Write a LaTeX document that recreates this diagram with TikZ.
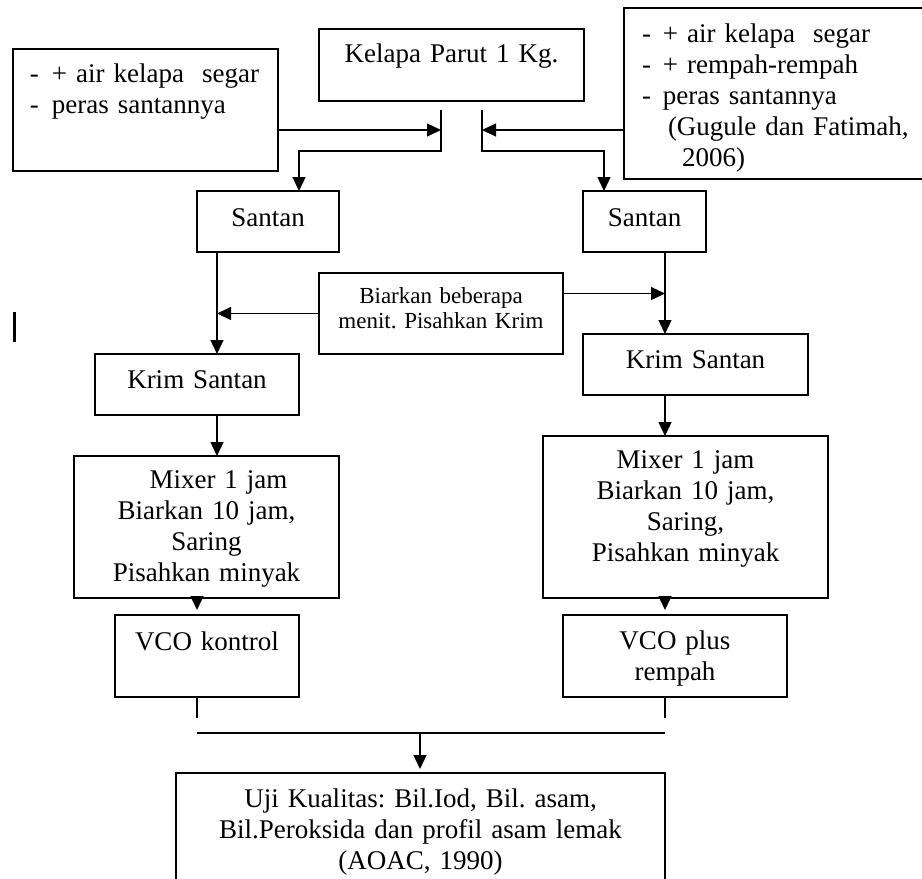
\documentclass[tikz,border=0pt]{standalone}
\usepackage{fontspec}
\setmainfont{Liberation Serif}
\usetikzlibrary{arrows.meta}
\frenchspacing

\begin{document}
\begin{tikzpicture}[x=0.5pt,y=-0.5pt,line width=0.65pt,>={Triangle[length=7pt,width=6.5pt]},
	font=\fontsize{13.5}{15.5}\selectfont,
	box/.style={draw,anchor=north west,inner xsep=4pt,inner ysep=0pt,outer sep=0pt,align=center},
	note/.style={box,align=left}]
				\useasboundingbox (0,0) rectangle (922,879);
				\clip (0,0) rectangle (922,879);
				% bahan awal
				\node[box,text width=124.5pt,text height=16.5pt,text depth=19.5pt] (kelapa) at (319,29) {Kelapa Parut 1 Kg.};
				\node[note,inner xsep=8.5pt,text width=115.5pt,text height=16.5pt,text depth=44.5pt] (lbox) at (13,49)
					{\makebox[11pt][l]{-}+ air kelapa~~segar\\ \makebox[11pt][l]{-}peras santannya};
				\node[note,inner xsep=9pt,text width=147pt,text height=17pt,text depth=68.5pt] (rbox) at (624,8)
					{\makebox[10.5pt][l]{-}+ air kelapa~~segar\\ \makebox[10.5pt][l]{-}+ rempah-rempah\\
					\makebox[10.5pt][l]{-}peras santannya\\ \hspace*{13pt}(Gugule dan Fatimah,\\ \hspace*{20pt}2006)};
				\coordinate (jLt) at (441,110); \coordinate (jLm) at (441,130); \coordinate (jLb) at (441,151);
				\coordinate (jRt) at (482,110); \coordinate (jRm) at (482,130); \coordinate (jRb) at (482,151);
				% santan dan krim
				\node[box,text width=63pt,text height=17.8pt,text depth=12.7pt] (santanL) at (197,191) {Santan};
				\node[box,text width=53.5pt,text height=17.8pt,text depth=12.7pt] (santanR) at (583,191) {Santan};
				\node[box,text width=114pt,text height=15pt,text depth=25.5pt,font=\fontsize{11.5}{12.5}\selectfont] (biarkan) at (319,273)
					{Biarkan beberapa\\ menit. Pisahkan Krim};
				\node[box,text width=94pt,text height=17.2pt,text depth=13.3pt] (krimL) at (95,354) {Krim Santan};
				\node[box,text width=104.5pt,text height=17.2pt,text depth=13.3pt] (krimR) at (583,334) {Krim Santan};
				\node[box,text width=124.5pt,text height=16pt,text depth=55pt] (mixL) at (74,456)
					{\hspace*{12pt}Mixer 1 jam\\ Biarkan 10 jam,\\ Saring\\ Pisahkan minyak};
				\node[box,text width=134.5pt,text height=16pt,text depth=65pt] (mixR) at (543,436)
					{Mixer 1 jam\\ Biarkan 10 jam,\\ Saring,\\ Pisahkan minyak};
				\node[box,text width=84pt,text height=17.5pt,text depth=23.5pt] (vcoK) at (115,615) {VCO kontrol};
				\node[box,text width=104pt,text height=17pt,text depth=24pt] (vcoP) at (563,615) {VCO plus\\ rempah};
				\node[box,text width=236.5pt,text height=17pt,text depth=46.5pt] (uji) at (176,773)
					{Uji Kualitas: Bil.Iod, Bil. asam,\\ Bil.Peroksida dan profil asam lemak\\ (AOAC, 1990)};
				% panah atas
				\draw[->] (lbox.east |- jLm) -- (jLm);
				\draw[->] (rbox.west |- jRm) -- (jRm);
				\draw[->] (jLt) -- (jLb) -| ([xshift=51pt]santanL.north west);
				\draw[->] (jRt) -- (jRb) -| ([xshift=10.5pt]santanR.north west);
				% panah tengah
				\coordinate (dl) at ([xshift=10pt]santanL.south west);
				\coordinate (dr) at ([xshift=41pt]santanR.south west);
				\coordinate (br) at ([yshift=10pt]biarkan.east);
				\draw[->] (dl) -- (dl |- krimL.north);
				\draw[->] (dr) -- (dr |- krimR.north);
				\draw[->] (biarkan.west) -- (biarkan.west -| dl);
				\draw[->] (br) -- (br -| dr);
				\draw[->] (dl |- krimL.south) -- (dl |- mixL.north);
				\draw[->] (dr |- krimR.south) -- (dr |- mixR.north);
				% panah bawah
				\coordinate (vk) at ([xshift=41pt]vcoK.north west);
				\coordinate (vp) at ([xshift=51pt]vcoP.north west);
				\coordinate (bar) at (420,733);
				\draw[->,shorten >=2.5pt] (vk |- mixL.south) -- (vk);
				\draw[->,shorten >=2.5pt] (vp |- mixR.south) -- (vp);
				\draw (vk |- vcoK.south) -- ++(0,21);
				\draw (vp |- vcoP.south) -- ++(0,21);
				\draw (vk |- bar) -- (vp |- bar);
				\draw[->,shorten >=2pt] (bar) -- (bar |- uji.north);
				\draw[line width=1.5pt] (14,312) -- (14,342);
			\end{tikzpicture}
\end{document}
